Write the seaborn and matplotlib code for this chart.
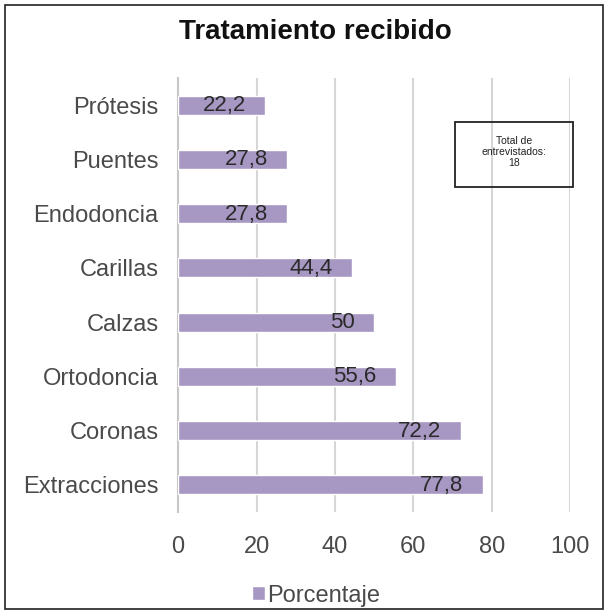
import matplotlib
matplotlib.use("Agg")
import matplotlib.pyplot as plt
import seaborn as sns
import pandas as pd
from matplotlib.patches import Rectangle

tratamientos = ["Prótesis", "Puentes", "Endodoncia", "Carillas", "Calzas",
                "Ortodoncia", "Coronas", "Extracciones"]
porcentaje = [22.2, 27.8, 27.8, 44.4, 50, 55.6, 72.2, 77.8]
etiquetas = ["22,2", "27,8", "27,8", "44,4", "50", "55,6", "72,2", "77,8"]

df = pd.DataFrame({"Tratamiento": tratamientos, "Porcentaje": porcentaje})

sns.set_style("white")
plt.rcParams["font.family"] = ["Liberation Sans", "DejaVu Sans"]

color = "#a797c3"
fig = plt.figure(figsize=(6.08, 6.14), dpi=100)
ax = fig.add_axes([0.293, 0.166, 0.6445, 0.707])

sns.barplot(data=df, x="Porcentaje", y="Tratamiento", color=color,
            saturation=1, width=0.35, ax=ax, zorder=3)

for i, (v, lab) in enumerate(zip(porcentaje, etiquetas)):
    ax.annotate(lab, (v, i), xytext=(-14, 1.5), textcoords="offset points",
                ha="right", va="center_baseline", fontsize=16, color="#2a2a2a",
                zorder=4)

ax.set_xlim(0, 100)
ax.set_ylim(7.5, -0.5)
ax.set_xticks([0, 20, 40, 60, 80, 100])
ax.grid(axis="x", color="#d6d6d6", linewidth=1.5, zorder=0)
ax.set_xlabel("")
ax.set_ylabel("")
for s in ["top", "right", "bottom"]:
    ax.spines[s].set_visible(False)
ax.spines["left"].set_color("#c8c8c8")
ax.spines["left"].set_linewidth(1.5)
ax.tick_params(axis="both", length=0, labelsize=17, colors="#4a4a4a")
ax.tick_params(axis="x", pad=17)
ax.tick_params(axis="y", pad=14)

fig.text(0.518, 0.948, "Tratamiento recibido", ha="center", va="center",
         fontsize=20, fontweight="bold", color="#111111")

# caja de total
ax.add_patch(Rectangle((70.7, 0.31), 30, 1.2, fill=False, ec="#222222",
                       lw=1.3, zorder=5, clip_on=False))
ax.text(85.7, 0.86, "Total de\nentrevistados:\n18", ha="center", va="center",
        fontsize=7.5, linespacing=1.1, color="#222222", zorder=6)

fig.patches.append(Rectangle((0.008, 0.008), 0.984, 0.984, transform=fig.transFigure,
                             fill=False, ec="#222222", lw=1.2))

fig.legend(handles=[Rectangle((0, 0), 1, 1, fc=color)], labels=["Porcentaje"],
           loc="center", bbox_to_anchor=(0.52, 0.03), frameon=False,
           fontsize=17, labelcolor="#4a4a4a", handlelength=0.55,
           handleheight=0.55, handletextpad=0.1)

fig.savefig("out.png", dpi=100)
